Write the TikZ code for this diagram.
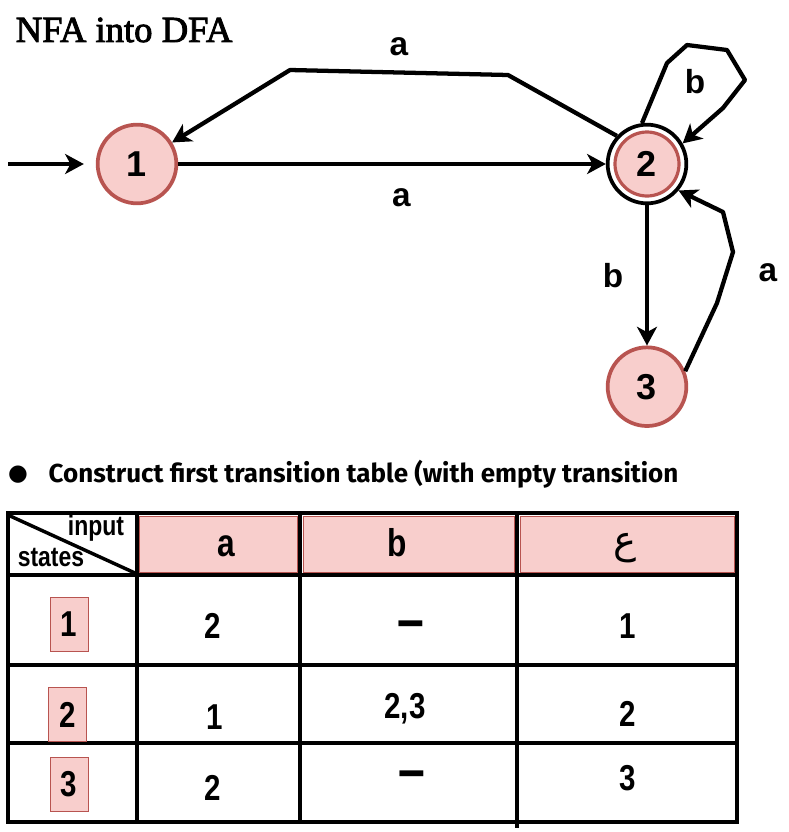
\documentclass[tikz,border=0pt]{standalone}
\usepackage[dvipsnames]{xcolor}
\usepackage{fontspec}
\setmainfont{Liberation Sans}
\newfontfamily\titlefont[FakeBold=2.5]{Liberation Serif}
\newfontfamily\notefont{Fira Sans}
\newfontfamily\narrowfont[FakeStretch=0.82]{Liberation Sans}
\newfontfamily\arabicfont[Script=Arabic]{DejaVu Sans}
\newfontfamily\symfont{DejaVu Sans}
\TeXXeTstate=1
\usetikzlibrary{automata,positioning,arrows.meta}
\definecolor{statefill}{HTML}{F8CECC}
\definecolor{stateline}{HTML}{B85450}

\begin{document}
\begin{tikzpicture}[x=0.75pt,y=-0.75pt,node distance=382.5pt,on grid,
   every state/.style={draw=stateline,fill=statefill,line width=2.8pt,minimum size=59pt,inner sep=0pt,
                       font=\fontsize{27}{27}\selectfont\bfseries},
   ring/.style={circle,draw=black,fill=white,line width=2.8pt,minimum size=59pt,inner sep=0pt},
   trans/.style={-{Stealth[length=14pt,width=15pt,inset=4pt]},line width=3.2pt,line join=round},
   lbl/.style={font=\fontsize{25}{25}\selectfont\bfseries},
   gridline/.style={line width=3pt,line cap=rect},
   head/.style={draw=stateline,fill=statefill,line width=0.6pt},
   statebox/.style={draw=stateline,fill=statefill,line width=0.6pt,minimum width=28.5pt,minimum height=41pt,inner sep=0pt,
                    font=\narrowfont\fontsize{27}{27}\selectfont\bfseries},
   cell/.style={font=\narrowfont\fontsize{27}{27}\selectfont\bfseries,inner sep=0pt}] 

   \useasboundingbox (0,0) rectangle (789,832);

   \node[anchor=west,font=\titlefont\fontsize{27.5}{27.5}\selectfont] (title) at (11,30) {NFA into DFA};

   % the automaton
   \node[state] (s1) at (137,164) {1};
   \node[ring] (s2) [right=of s1] {};
   \node[state,minimum size=48pt,line width=2.4pt] (s2in) at (s2) {2};
   \node[state] (s3) [below=167pt of s2] {3};
   \coordinate (start) at (8,164);

   \draw[trans,shorten >=9pt] (start) -- (s1);
   \draw[trans] (s1) -- node[lbl,yshift=-25.5pt,xshift=7pt] (la1) {a} (s2);
   \draw[trans] (s2.137) -- (508,75) -- node[lbl,yshift=19pt] (la2) {a} (290,70) -- (s1);
   \draw[trans] (s2.97) -- (667,63) -- (687,45) -- (727,50) -- (745,80) -- (723,108) -- (s2.30);
   \draw[trans] (s2) -- node[lbl,xshift=-25.5pt] (lb2) {b} (s3);
   \draw[trans] (s3.22) -- (717,303) -- (733,252) -- (723,212) -- (s2.-40);
   \node[lbl] (lb1) at (695,82) {b};
   \node[lbl] (la3) at (768,273) {a};

   % the table
   \node[font=\symfont\fontsize{17}{17}\selectfont,inner sep=0pt] (dot) at (18,475) {●};
   \node[anchor=west,font=\notefont\bfseries\fontsize{19.5}{19.5}\selectfont] (note) at (44,474)
        {Construct first transition table (with empty transition};

   \foreach \a/\b in {139/297,303/514,520/734}
      \draw[head] (\a,516) rectangle (\b,572);
   \draw[gridline] (8,513) rectangle (737,822);
   \foreach \y in {575,665,743}
      \draw[gridline] (8,\y) -- (737,\y);
   \foreach \x in {137,300}
      \draw[gridline] (\x,513) -- (\x,822);
   \draw[line width=3pt] (517,513) -- (517,828);
   \draw[line width=2.6pt] (8,515) -- (135,573);

   \node[cell,anchor=base,font=\narrowfont\fontsize{21}{21}\selectfont\bfseries] (input) at (96,535) {input};
   \node[cell,anchor=base,font=\narrowfont\fontsize{21}{21}\selectfont\bfseries] (states) at (51,566) {states};
   \node[cell,anchor=base,font=\narrowfont\fontsize{29}{29}\selectfont\bfseries] (ha) at (226,556) {a};
   \node[cell,anchor=base,font=\narrowfont\fontsize{29}{29}\selectfont\bfseries] (hb) at (397,556) {b};
   \node[font=\arabicfont\fontsize{29}{29}\selectfont] (he) at (625,548) {\beginR ع\endR};

   \foreach \n/\x/\y/\t in {r1/69/624.5/1,r2/67.5/714.5/2,r3/69/784.5/3}
      \node[statebox] (\n) at (\x,\y) {\t};

   \foreach \n/\x/\y/\t in {a1/213/626/2,e1/628/626/1,
                            a2/215/717/1,e2/628/714/2,
                            a3/213/788/2,e3/628/778/3}
      \node[cell] (\n) at (\x,\y) {\t};
   \foreach \n/\x/\y in {b1/411/630,b3/412/780}
      \node[cell,font=\narrowfont\fontsize{44}{44}\selectfont\bfseries] (\n) at (\x,\y) {–};
   \node[cell,anchor=base] (b2) at (405,718) {2,3};
\end{tikzpicture}
\end{document}
